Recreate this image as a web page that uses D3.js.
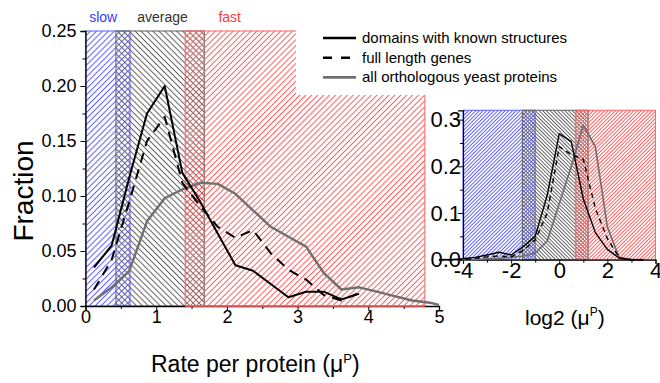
<!DOCTYPE html>
<html lang="en">
<head>
<meta charset="UTF-8">
<script src="https://d3js.org/d3.v7.min.js"></script>
<style>
  body { margin: 0; background: #fff; }
  svg text { font-family: "Liberation Sans", Arial, sans-serif; }
</style>
</head>
<body>
<svg id="chart" width="660" height="383"></svg>
<script>
// ---- data ----
const seriesNames = ['domains with known structures', 'full length genes', 'all orthologous yeast proteins'];

// main panel: rate per protein
const rateBins = [0.12, 0.37, 0.62, 0.87, 1.12, 1.37, 1.62, 1.87, 2.12, 2.37, 2.62, 2.87, 3.12, 3.37, 3.62, 3.87];
const domainsRate = [0.035, 0.055, 0.117, 0.175, 0.200, 0.121, 0.095, 0.066, 0.037, 0.032, 0.020, 0.008, 0.013, 0.013, 0.006, 0.011];
const fullRate    = [0.015, 0.042, 0.095, 0.150, 0.172, 0.112, 0.091, 0.072, 0.062, 0.069, 0.048, 0.033, 0.024, 0.010, 0.005, 0.012];
const allBins = [0.12, 0.37, 0.62, 0.87, 1.12, 1.37, 1.62, 1.87, 2.12, 2.37, 2.62, 2.87, 3.12, 3.37, 3.62, 3.87, 4.12, 4.37, 4.62, 4.87, 5.0];
const allRate = [0.005, 0.017, 0.032, 0.077, 0.098, 0.106, 0.112, 0.111, 0.102, 0.087, 0.072, 0.063, 0.054, 0.030, 0.015, 0.017, 0.013, 0.009, 0.005, 0.003, 0.001];

// inset: log2 of rate
const logBins = [-5, -4.5, -4, -3.5, -3, -2.5, -2, -1.5, -1, -0.5, 0, 0.5, 1, 1.5, 2, 2.5, 3, 3.5];
const domainsLog = [0, 0, 0.002, 0.005, 0.010, 0.016, 0.010, 0.028, 0.050, 0.138, 0.270, 0.253, 0.130, 0.058, 0.022, 0.003, 0.000, 0];
const fullLog    = [0, 0, 0.000, 0.003, 0.006, 0.008, 0.006, 0.020, 0.042, 0.100, 0.242, 0.225, 0.215, 0.110, 0.045, 0.004, 0.000, 0];
const allLog     = [0, 0, 0.000, 0.000, 0.002, 0.003, 0.005, 0.008, 0.014, 0.040, 0.120, 0.200, 0.288, 0.242, 0.070, 0.004, 0.001, 0];

// rate classes
const classNames = ['slow', 'average', 'fast'];
const classRangesMain = [[0, 0.63], [0.43, 1.68], [1.41, 4.8]];
const classRangesLog = [[-4, -1.0], [-1.53, 1.2], [0.67, 4.0]];
const classLabelAt = [0.25, 1.09, 2.04];

// ticks
const mainXTicks = [0, 1, 2, 3, 4, 5];
const mainXMinor = [0.5, 1.5, 2.5, 3.5, 4.5];
const mainYTicks = [0, 0.05, 0.10, 0.15, 0.20, 0.25];
const mainYMinor = [0.025, 0.075, 0.125, 0.175, 0.225];
const insetXTicks = [-4, -2, 0, 2, 4];
const insetXMinor = [-3, -1, 1, 3];
const insetYTicks = [0, 0.1, 0.2, 0.3];
const insetYMinor = [0.05, 0.15, 0.25];

// ---- styles ----
const classColors = ['#5a5aff', '#5e5e5e', '#ff5a5a'];
const classBorders = ['#6a6aff', '#6a6a6a', '#ff6a6a'];
const classText = ['#3a3aff', '#333', '#ff3a3a'];
const hatchAngle = [45, -45, 45];
const lineStyles = [
  {stroke: '#000', dash: null},
  {stroke: '#000', dash: 'dash'},
  {stroke: '#707070', dash: null}
];

const svg = d3.select('#chart');
const defs = svg.append('defs');

function makeHatch(id, color, angle, gap, w) {
  const p = defs.append('pattern')
    .attr('id', id)
    .attr('patternUnits', 'userSpaceOnUse')
    .attr('width', gap).attr('height', gap)
    .attr('patternTransform', `rotate(${angle})`);
  p.append('line')
    .attr('x1', gap / 2).attr('y1', -1)
    .attr('x2', gap / 2).attr('y2', gap + 1)
    .attr('stroke', color).attr('stroke-width', w);
}
classNames.forEach((c, i) => {
  makeHatch('main-' + c, classColors[i], hatchAngle[i], 4.2, 1);
  makeHatch('inset-' + c, classColors[i], hatchAngle[i], 2.6, 0.95);
});

// ---- main panel ----
const x = d3.scaleLinear().domain([0, 5]).range([85.5, 439]);
const y = d3.scaleLinear().domain([0, 0.25]).range([306, 31]);

const mainG = svg.append('g');
classNames.forEach((c, i) => {
  const r = classRangesMain[i];
  mainG.append('rect')
    .attr('x', x(r[0])).attr('y', y(0.25))
    .attr('width', x(r[1]) - x(r[0]))
    .attr('height', y(0) - y(0.25))
    .attr('fill', `url(#main-${c})`)
    .attr('stroke', classBorders[i])
    .attr('stroke-width', 1.1);
  svg.append('text')
    .attr('x', x(classLabelAt[i])).attr('y', 22)
    .attr('text-anchor', 'middle')
    .attr('fill', classText[i])
    .style('font-size', '14px')
    .text(c);
});

// legend box covers part of the fast area
svg.append('rect')
  .attr('x', 296).attr('y', 0).attr('width', 364).attr('height', 95)
  .attr('fill', '#fff');

// axes
const axisFont = '18px';
const yAxis = svg.append('g').attr('transform', `translate(${x(0)},0)`)
  .call(d3.axisLeft(y).tickValues(mainYTicks).tickFormat(d3.format('.2f')).tickSize(5).tickPadding(4));
svg.append('g').attr('transform', `translate(${x(0)},0)`)
  .call(d3.axisLeft(y).tickValues(mainYMinor).tickFormat('').tickSize(3))
  .select('.domain').remove();
const xAxis = svg.append('g').attr('transform', `translate(0,${y(0)})`)
  .call(d3.axisBottom(x).tickValues(mainXTicks).tickFormat(d3.format('d')).tickSize(5).tickPadding(-1));
svg.append('g').attr('transform', `translate(0,${y(0)})`)
  .call(d3.axisBottom(x).tickValues(mainXMinor).tickFormat('').tickSize(3))
  .select('.domain').remove();
[yAxis, xAxis].forEach(a => {
  a.selectAll('text').style('font-size', axisFont).attr('fill', '#000');
});
svg.selectAll('.domain').attr('stroke-width', 1.3);

// red border stays on top of the axis line
svg.append('line')
  .attr('x1', x(classRangesMain[2][0])).attr('x2', x(classRangesMain[2][1]))
  .attr('y1', y(0)).attr('y2', y(0))
  .attr('stroke', classBorders[2]).attr('stroke-width', 1.5);

function drawSeries(g, xs, ys, xs2, ys2, xs3, ys3, sx, sy, w, dash) {
  const line = d3.line().x(d => sx(d[0])).y(d => sy(d[1]));
  const sets = [[xs, ys], [xs2, ys2], [xs3, ys3]];
  // gray first, then dashed, then solid on top
  [2, 1, 0].forEach(k => {
    const pts = sets[k][0].map((v, j) => [v, sets[k][1][j]]);
    g.append('path')
      .attr('d', line(pts))
      .attr('fill', 'none')
      .attr('stroke', lineStyles[k].stroke)
      .attr('stroke-width', k === 2 ? w * 1.2 : w)
      .attr('stroke-linejoin', 'round')
      .attr('stroke-dasharray', lineStyles[k].dash ? dash : null);
  });
}
drawSeries(svg.append('g'), rateBins, domainsRate, rateBins, fullRate, allBins, allRate, x, y, 2, '10,7');

// axis titles
svg.append('text')
  .attr('transform', 'translate(33,191) rotate(-90)')
  .attr('text-anchor', 'middle')
  .style('font-size', '28px')
  .text('Fraction');
const xt = svg.append('text')
  .attr('x', 151).attr('y', 372)
  .style('font-size', '23px');
xt.append('tspan').text('Rate per protein (μ');
xt.append('tspan').attr('dy', -9).style('font-size', '13px').text('P');
xt.append('tspan').attr('dy', 9).text(')');

// legend
seriesNames.forEach((n, i) => {
  const ly = 38 + i * 19.7;
  svg.append('line')
    .attr('x1', 323).attr('x2', 356).attr('y1', ly).attr('y2', ly)
    .attr('stroke', lineStyles[i].stroke)
    .attr('stroke-width', 2.6)
    .attr('stroke-dasharray', lineStyles[i].dash ? '9,9' : null);
  svg.append('text')
    .attr('x', 362).attr('y', ly + 5)
    .style('font-size', '15px')
    .text(n);
});

// ---- inset panel ----
const ix = d3.scaleLinear().domain([-4, 4]).range([463, 655.5]);
const iy = d3.scaleLinear().domain([0, 0.32]).range([259.7, 110.3]);

classNames.forEach((c, i) => {
  const r = classRangesLog[i];
  svg.append('rect')
    .attr('x', ix(r[0])).attr('y', iy(0.32))
    .attr('width', ix(r[1]) - ix(r[0]))
    .attr('height', iy(0) - iy(0.32))
    .attr('fill', `url(#inset-${c})`)
    .attr('stroke', classBorders[i])
    .attr('stroke-width', 1.1);
});

const iyAxis = svg.append('g').attr('transform', `translate(${ix(-4)},0)`)
  .call(d3.axisLeft(iy).tickValues(insetYTicks).tickFormat(d3.format('.1f')).tickSize(5).tickPadding(-3));
svg.append('g').attr('transform', `translate(${ix(-4)},0)`)
  .call(d3.axisLeft(iy).tickValues(insetYMinor).tickFormat('').tickSize(3))
  .select('.domain').remove();
const ixAxis = svg.append('g').attr('transform', `translate(0,${iy(0)})`)
  .call(d3.axisBottom(ix).tickValues(insetXTicks).tickFormat(d => d < 0 ? '-' + Math.abs(d) : d).tickSize(4).tickPadding(-1));
svg.append('g').attr('transform', `translate(0,${iy(0)})`)
  .call(d3.axisBottom(ix).tickValues(insetXMinor).tickFormat('').tickSize(3))
  .select('.domain').remove();
[iyAxis, ixAxis].forEach(a => {
  a.selectAll('text').style('font-size', '22px').attr('fill', '#000');
  a.select('.domain').attr('stroke-width', 1.2);
});

drawSeries(svg.append('g'), logBins, domainsLog, logBins, fullLog, logBins, allLog, ix, iy, 1.4, '5,4');

const it = svg.append('text')
  .attr('x', 525).attr('y', 325)
  .style('font-size', '21px');
it.append('tspan').text('log2 (μ');
it.append('tspan').attr('dy', -9).style('font-size', '12px').text('P');
it.append('tspan').attr('dy', 9).text(')');
</script>
</body>
</html>
